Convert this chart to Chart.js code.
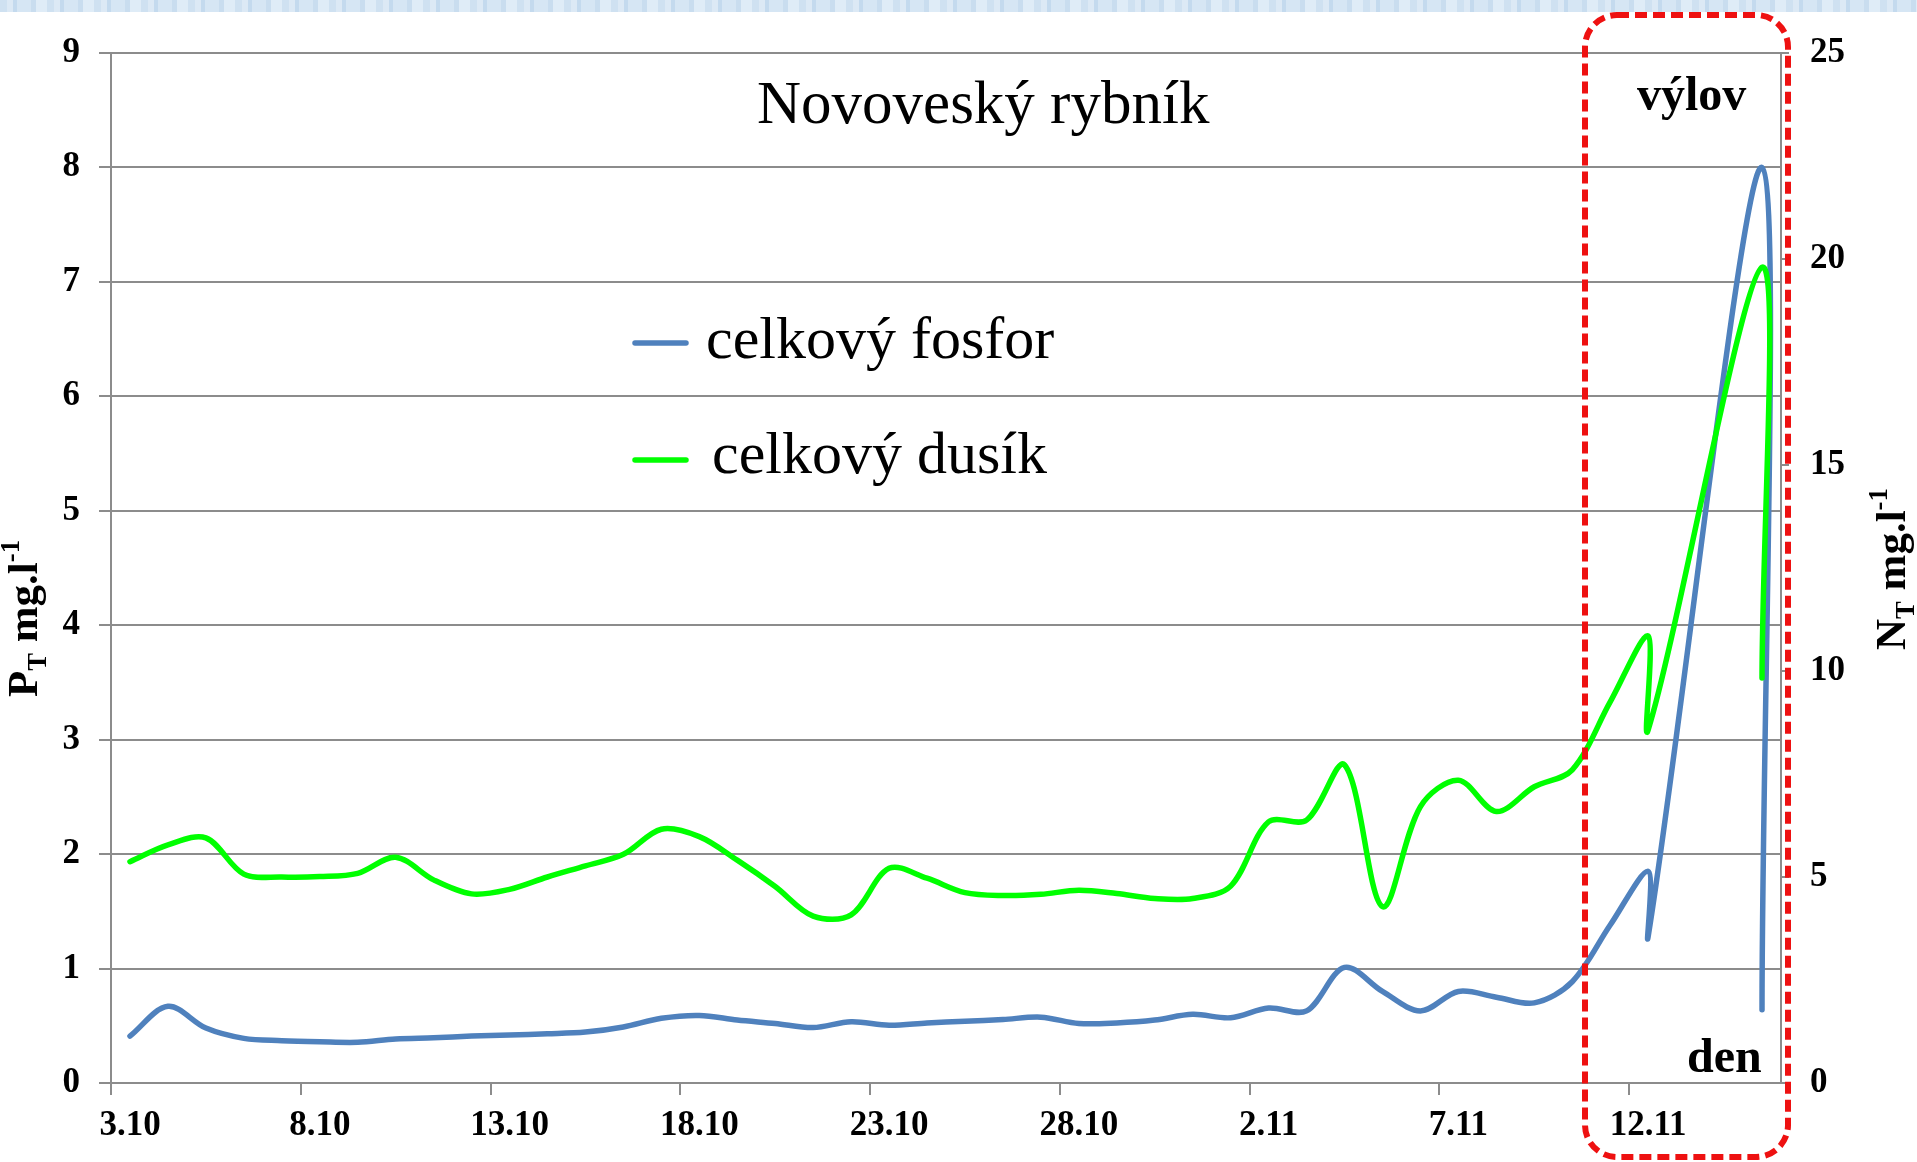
<!DOCTYPE html>
<html>
<head>
<meta charset="utf-8">
<script src="https://cdn.jsdelivr.net/npm/chart.js@4.4.1/dist/chart.umd.min.js"></script>
<style>
html,body{margin:0;padding:0;background:#fff;overflow:hidden;width:1917px;height:1162px;}
#band{position:absolute;left:0;top:0;width:1917px;height:12px;
 background:repeating-linear-gradient(90deg,#cfe1f1 0 7px,#dce9f5 7px 13px,#c4daee 13px 17px,#d6e6f4 17px 31px,#c9ddef 31px 36px,#dfecf7 36px 47px);}
#wrap{position:absolute;left:0;top:0;width:1917px;height:1162px;}
</style>
</head>
<body>
<div id="band"></div>
<div id="wrap"><canvas id="c" width="1917" height="1162"></canvas></div>
<script>
// ---------- data ----------
const sampleDates = [
  '3.10','4.10','5.10','6.10','7.10','8.10','9.10','10.10','11.10','12.10',
  '13.10','14.10','15.10','16.10','17.10','18.10','19.10','20.10','21.10','22.10',
  '23.10','24.10','25.10','26.10','27.10','28.10','29.10','30.10','31.10','1.11',
  '2.11','3.11','4.11','5.11','6.11','7.11','8.11','9.11','10.11','11.11',
  '12.11','12.11','15.11','15.11'
];
const phosphorus = [
  0.41,0.67,0.48,0.39,0.37,0.36,0.355,0.385,0.395,0.41,
  0.42,0.43,0.445,0.49,0.565,0.59,0.55,0.52,0.484,0.535,
  0.505,0.525,0.54,0.555,0.575,0.52,0.525,0.55,0.60,0.57,
  0.655,0.63,1.01,0.80,0.63,0.80,0.75,0.70,0.885,1.38,
  1.85,1.28,8.0,0.64
];
const nitrogen = [
  5.37,5.78,5.95,5.07,5.0,5.01,5.09,5.48,4.93,4.59,
  4.70,5.0,5.27,5.55,6.16,5.98,5.41,4.77,4.05,4.08,
  5.21,4.97,4.62,4.55,4.58,4.68,4.60,4.48,4.48,4.78,
  6.34,6.38,7.72,4.28,6.71,7.35,6.59,7.19,7.6,9.25,
  10.85,8.57,19.8,9.83
];
const xTickLabels = ['3.10','8.10','13.10','18.10','23.10','28.10','2.11','7.11','12.11'];
const seriesNames = ['celkový fosfor','celkový dusík'];
const seriesColors = ['#4f81bd','#00ff00'];
const chartTitle = 'Novoveský rybník';
const leftAxisTitle = [['P',''],['T','sub'],[' mg.l',''],['-1','sup']];
const rightAxisTitle = [['N',''],['T','sub'],[' mg.l',''],['-1','sup']];
const noteTop = 'výlov';
const noteBottom = 'den';

function dayOffset(s){ const p = s.split('.').map(Number); return p[1] === 10 ? p[0] - 3 : p[0] + 28; }

const SERIF = '"Liberation Serif", "Times New Roman", serif';
const GRID = '#8c8c8c';
const tickFont = {family: SERIF, size: 35, weight: 'bold'};

function drawRich(ctx, parts, x, y, size){
  ctx.save();
  ctx.translate(x, y);
  ctx.rotate(-Math.PI/2);
  ctx.fillStyle = '#000';
  ctx.textBaseline = 'alphabetic';
  ctx.textAlign = 'left';
  let cx = 0;
  for (const [t, kind] of parts){
    let fs = size, dy = 0;
    if (kind === 'sub'){ fs = size*0.62; dy = size*0.2; }
    if (kind === 'sup'){ fs = size*0.62; dy = -size*0.42; }
    ctx.font = 'bold ' + fs + 'px ' + SERIF;
    ctx.fillText(t, cx, dy);
    cx += ctx.measureText(t).width;
  }
  ctx.restore();
}

const overlay = {
  id: 'overlay',
  afterDraw(chart){
    const ctx = chart.ctx;
    ctx.save();
    // title
    ctx.fillStyle = '#000';
    ctx.textBaseline = 'alphabetic';
    ctx.textAlign = 'left';
    ctx.font = '61px ' + SERIF;
    ctx.fillText(chartTitle, 757, 123);
    // legend
    const leg = [{y:343, tx:706, ty:358},{y:460, tx:712, ty:473}];
    leg.forEach((L, i) => {
      ctx.strokeStyle = seriesColors[i];
      ctx.lineWidth = 5.5;
      ctx.lineCap = 'round';
      ctx.beginPath(); ctx.moveTo(635, L.y); ctx.lineTo(686, L.y); ctx.stroke();
      ctx.font = '60px ' + SERIF;
      ctx.fillStyle = '#000';
      ctx.fillText(seriesNames[i], L.tx, L.ty);
    });
    // annotations
    ctx.font = 'bold 48px ' + SERIF;
    ctx.fillText(noteTop, 1637, 110);
    ctx.fillText(noteBottom, 1687, 1072);
    // axis titles
    drawRich(ctx, leftAxisTitle, 37, 697, 43);
    drawRich(ctx, rightAxisTitle, 1905, 650, 43);
    // dashed rounded rectangle
    ctx.strokeStyle = '#ee1111';
    ctx.lineWidth = 6;
    ctx.lineCap = 'butt';
    ctx.setLineDash([12, 6]);
    ctx.beginPath();
    ctx.roundRect(1585, 15, 203, 1142, 32);
    ctx.stroke();
    ctx.restore();
  }
};

new Chart(document.getElementById('c'), {
  type: 'line',
  data: {
    datasets: [
      {label: seriesNames[0], data: sampleDates.map((d,i)=>({x: dayOffset(d), y: phosphorus[i]})),
       borderColor: seriesColors[0], backgroundColor: seriesColors[0], yAxisID: 'y', order: 1},
      {label: seriesNames[1], data: sampleDates.map((d,i)=>({x: dayOffset(d), y: nitrogen[i]})),
       borderColor: seriesColors[1], backgroundColor: seriesColors[1], yAxisID: 'y2', order: 0}
    ]
  },
  options: {
    responsive: false, animation: false, devicePixelRatio: 1,
    layout: {padding: {top: 53, left: 0, right: 0, bottom: 0}},
    plugins: {legend: {display: false}, tooltip: {enabled: false}, title: {display: false}},
    elements: {
      point: {radius: 0, hoverRadius: 0},
      line: {tension: 0.33, borderWidth: 5.5, borderCapStyle: 'round', borderJoinStyle: 'round', fill: false}
    },
    scales: {
      x: {
        type: 'linear', min: -0.5, max: 43.5,
        afterBuildTicks: ax => { ax.ticks = xTickLabels.map(l => ({value: dayOffset(l) - 0.5})); },
        afterFit: s => { s.height = 79; },
        ticks: {callback: (v, i) => xTickLabels[i], labelOffset: 19, padding: 10, autoSkip: false, maxRotation: 0, font: tickFont, color: '#000'},
        grid: {drawOnChartArea: false, color: GRID, lineWidth: 2, tickLength: 12},
        border: {color: GRID, width: 2}
      },
      y: {
        position: 'left', min: 0, max: 9,
        ticks: {stepSize: 1, padding: 19, font: tickFont, color: '#000'},
        grid: {color: GRID, lineWidth: 2, tickLength: 12},
        border: {color: GRID, width: 2},
        afterFit: s => { s.width = 111; }
      },
      y2: {
        position: 'right', min: 0, max: 25,
        ticks: {stepSize: 5, padding: 21, font: tickFont, color: '#000'},
        grid: {drawOnChartArea: false, color: GRID, lineWidth: 2, tickLength: 8},
        border: {color: GRID, width: 2},
        afterFit: s => { s.width = 136; }
      }
    }
  },
  plugins: [overlay]
});
</script>
</body>
</html>
